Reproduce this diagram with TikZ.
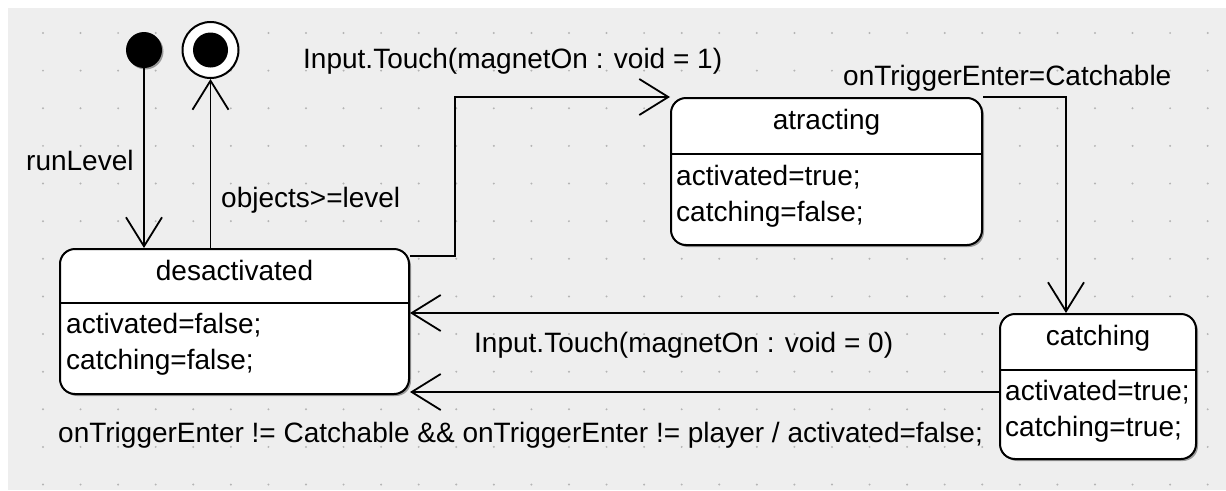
\documentclass[tikz,border=0pt]{standalone}
\usepackage{fontspec}
\setmainfont{Liberation Sans}
\usetikzlibrary{arrows.meta,shadows}
\definecolor{canvas}{RGB}{238,238,238}
\definecolor{griddot}{RGB}{180,180,180}
\tikzset{
  statebox/.style={draw=black, line width=2pt, fill=white, rounded corners=15pt,
    inner sep=0pt, drop shadow={shadow xshift=2pt, shadow yshift=-2pt, fill=black!40, opacity=1}},
  divider/.style={line width=2pt},
  arr/.style={line width=1.8pt, -{Straight Barb[length=29pt, width=36pt, line width=1.8pt]}},
  lbl/.style={inner sep=0pt, anchor=base west, font=\fontsize{28}{34}\selectfont},
  ttl/.style={inner sep=0pt, anchor=base, font=\fontsize{28}{34}\selectfont},
}
\begin{document}
\begin{tikzpicture}[x=1pt, y=-1pt]
  \useasboundingbox (0,0) rectangle (1226,490);
  \fill[white] (0,0) rectangle (1226,490);
  \fill[canvas] (8,8) rectangle (1226,490);
  % snapping grid
  \foreach \i in {0,...,31}
    \foreach \j in {0,...,12}
      \fill[griddot] (43+37.57*\i, 33+37.63*\j) circle (1.1pt);

  % pseudo states
  \node[circle, fill=black, minimum size=36pt, inner sep=0pt,
        drop shadow={shadow xshift=1.5pt, shadow yshift=-1.5pt, fill=black!40, opacity=1}] (init) at (144,50) {};
  \node[circle, draw=black, line width=2pt, fill=white, minimum size=56pt, inner sep=0pt] (fin) at (210.5,50) {};
  \node[circle, fill=black, minimum size=35pt, inner sep=0pt] (fincore) at (fin) {};

  % states
  \node[statebox, minimum width=349pt, minimum height=145pt] (des) at (234.5,321.5) {};
  \node[statebox, minimum width=311pt, minimum height=147pt] (atr) at (826.5,171.5) {};
  \node[statebox, minimum width=196pt, minimum height=145pt] (cat) at (1098,386.5) {};

  \draw[divider] ([yshift=-55pt]des.north west) -- ([yshift=-55pt]des.north east);
  \draw[divider] ([yshift=-57pt]atr.north west) -- ([yshift=-57pt]atr.north east);
  \draw[divider] ([yshift=-57pt]cat.north west) -- ([yshift=-57pt]cat.north east);

  \node[ttl] (destitle) at (234.5,280) {desactivated};
  \node[lbl] (desa) at (66,333) {activated=false;};
  \node[lbl] (desb) at (66,369) {catching=false;};

  \node[ttl] (atrtitle) at (826.5,129) {atracting};
  \node[lbl] (atra) at (676,185) {activated=true;};
  \node[lbl] (atrb) at (676,221) {catching=false;};

  \node[ttl] (cattitle) at (1098,345) {catching};
  \node[lbl] (cata) at (1005,400) {activated=true;};
  \node[lbl] (catb) at (1005,436) {catching=true;};

  % transitions
  \draw[arr] (init.south) -- (init |- des.north);
  \draw[arr] (fin |- des.north) -- (fin.south);
  \draw[arr] ([yshift=-8pt]des.north east) -| ([xshift=-215pt]atr.north west) -- (atr.north west);
  \draw[arr] (atr.north east) -| ([xshift=-32pt]cat.north);
  \draw[arr] (cat.north west) -- (des.east |- cat.north west);
  \coordinate (catlow) at ([yshift=-79pt]cat.north west);
  \draw[arr] (catlow) -- (des.east |- catlow);

  % transition labels
  \node[lbl] (lrun) at (26,170) {runLevel};
  \node[lbl] (lobj) at (221,207) {objects>=level};
  \node[lbl] (lon) at (303,68) {Input.Touch(magnetOn : void = 1)};
  \node[lbl] (lcatch) at (843,85) {onTriggerEnter=Catchable};
  \node[lbl] (loff) at (474,352) {Input.Touch(magnetOn : void = 0)};
  \node[lbl] (lmiss) at (58,442) {onTriggerEnter != Catchable \&\& onTriggerEnter != player / activated=false;};
\end{tikzpicture}
\end{document}
